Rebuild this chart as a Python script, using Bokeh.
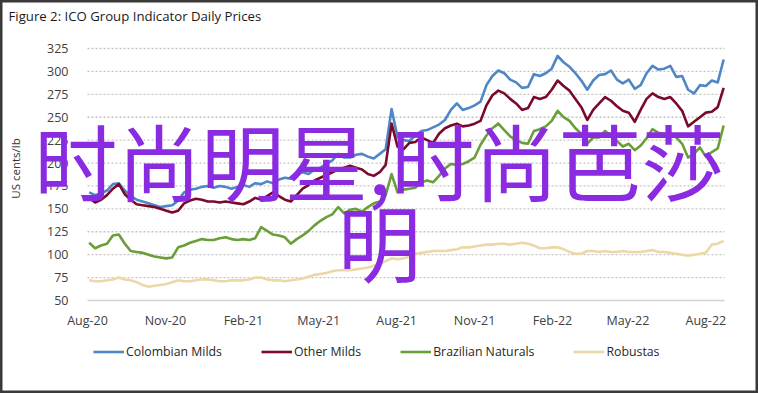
import math
import pandas as pd
from bokeh.plotting import figure
from bokeh.models import (Range1d, FixedTicker, Legend, LegendItem, Label,
                          DatetimeTickFormatter)
from bokeh.embed import file_html
from bokeh.resources import INLINE

# ---------------- data (weekly readings of the daily indicator prices, US cents/lb) -------------
start_date = "2020-08-03"

colombian = [168, 165, 167, 170, 177, 178, 170, 164, 160, 158, 156, 154, 152, 153, 154, 159,
             168, 171, 172, 174, 175, 173, 175, 174, 172, 174, 176, 174, 178, 177, 180, 178,
             182, 184, 183, 188, 190, 188, 193, 195, 199, 203, 210, 206, 206, 209, 210, 207,
             205, 210, 215, 259, 228, 225, 224, 230, 235, 236, 239, 242, 247, 258, 265, 258,
             260, 263, 267, 285, 295, 301, 298, 291, 288, 282, 283, 297, 295, 298, 303, 317,
             310, 305, 298, 290, 280, 290, 296, 297, 301, 291, 287, 291, 281, 285, 298, 306,
             302, 303, 306, 294, 295, 280, 276, 285, 284, 290, 288, 313]

other_milds = [162, 157, 160, 165, 172, 177, 166, 160, 155, 154, 153, 152, 150, 148, 146, 148,
               156, 159, 161, 160, 158, 158, 157, 158, 157, 156, 155, 158, 162, 160, 164, 168,
               164, 160, 158, 165, 172, 176, 181, 184, 187, 190, 193, 195, 197, 195, 193, 188,
               186, 190, 198, 243, 218, 215, 222, 223, 228, 225, 222, 232, 238, 241, 243, 240,
               241, 243, 246, 263, 274, 279, 276, 270, 265, 258, 260, 272, 270, 272, 280, 290,
               284, 279, 270, 261, 247, 258, 265, 272, 268, 262, 257, 255, 245, 258, 270, 276,
               272, 270, 272, 265, 257, 240, 245, 250, 255, 256, 261, 282]

brazilian = [113, 107, 110, 112, 121, 122, 112, 104, 103, 102, 100, 98, 97, 96, 97, 108,
             110, 113, 115, 117, 116, 116, 118, 119, 117, 116, 117, 116, 118, 130, 126, 122,
             121, 119, 112, 117, 121, 126, 132, 137, 141, 144, 152, 145, 149, 150, 147, 152,
             156, 158, 165, 188, 168, 171, 172, 173, 179, 181, 179, 186, 194, 199, 198, 199,
             202, 206, 220, 230, 238, 243, 236, 229, 225, 222, 221, 235, 237, 240, 246, 257,
             250, 246, 238, 232, 221, 228, 228, 235, 230, 224, 218, 221, 214, 219, 227, 237,
             233, 232, 232, 228, 221, 206, 210, 217, 207, 212, 216, 241]

robustas = [72, 71, 71, 72, 73, 75, 73, 72, 70, 67, 65, 66, 67, 68, 70, 72,
            71, 71, 72, 73, 73, 72, 71, 71, 72, 72, 72, 73, 75, 75, 73, 72,
            72, 71, 72, 73, 74, 76, 78, 79, 80, 82, 83, 83, 83, 84, 85, 86,
            88, 90, 93, 96, 95, 96, 98, 101, 102, 103, 104, 104, 104, 105, 106, 108,
            108, 109, 110, 111, 111, 112, 112, 111, 112, 113, 112, 110, 107, 107, 108, 108,
            106, 103, 101, 101, 104, 104, 103, 104, 103, 103, 104, 103, 103, 103, 104, 105,
            103, 103, 102, 101, 100, 99, 100, 101, 102, 111, 112, 115]

series_names = ["Colombian Milds", "Other Milds", "Brazilian Naturals", "Robustas"]
series_colors = ["#4f86c6", "#7a0a2a", "#6a9e3a", "#ecd7a6"]

x_start, x_end = "2020-08-01", "2022-08-23"
tick_dates = ["2020-08-01", "2020-11-01", "2021-02-01", "2021-05-01", "2021-08-01",
              "2021-11-01", "2022-02-01", "2022-05-01", "2022-08-01"]
y_ticks = [50, 75, 100, 125, 150, 175, 200, 225, 250, 275, 300, 325]

title_text = "Figure 2: ICO Group Indicator Daily Prices"
y_label_text = "US cents/lb"
overlay_line1 = "时尚明星,时尚芭莎"
overlay_line2 = "明"

# ---------------- layout constants (pixels inside the 758x393 figure) -------------
W, H = 758, 393
PL, PR, PT, PB = 87, 724, 48, 300     # plot area: left, right, top, bottom
FONT = "Open Sans"

t0, t1 = pd.Timestamp(x_start), pd.Timestamp(x_end)
dpp = (t1 - t0) / (PR - PL)
ypp = (y_ticks[-1] - y_ticks[0]) / (PB - PT)
xr = Range1d(t0 - dpp * PL, t1 + dpp * (W - PR))
yr = Range1d(y_ticks[0] - ypp * (H - PB), y_ticks[-1] + ypp * PT)

dates = pd.date_range(start_date, periods=len(colombian), freq="7D")

p = figure(width=W, height=H, output_backend="svg", toolbar_location=None,
           x_axis_type="datetime", x_range=xr, y_range=yr, min_border=0)
p.outline_line_color = "#3a3a3a"
p.outline_line_width = 4
p.background_fill_color = "white"
p.border_fill_color = "white"
p.xgrid.visible = False
p.ygrid.visible = False

# dotted horizontal gridlines and solid baseline, limited to the plotting span
p.segment(x0=[t0] * (len(y_ticks) - 1), x1=[t1] * (len(y_ticks) - 1),
          y0=y_ticks[1:], y1=y_ticks[1:], line_color="#c4c4c4", line_dash="2 2", line_width=1.3)
p.segment(x0=[t0], x1=[t1], y0=y_ticks[:1], y1=y_ticks[:1], line_color="#d4d4d4", line_width=1.5)

renderers = []
for vals, name, col in zip([colombian, other_milds, brazilian, robustas], series_names, series_colors):
    r = p.line(dates, vals, line_color=col, line_width=2.6, line_join="round")
    renderers.append((name, r))

# axes (labels pulled into place with standoffs)
p.yaxis.ticker = FixedTicker(ticks=y_ticks)
p.yaxis.axis_line_color = None
p.yaxis.major_tick_line_color = None
p.yaxis.minor_tick_line_color = None
p.yaxis.major_label_standoff = -74
p.yaxis.major_label_text_font = FONT
p.yaxis.major_label_text_font_size = "12.5px"
p.yaxis.major_label_text_color = "#404040"

tick_ms = [pd.Timestamp(d).value // 10**6 for d in tick_dates]
p.xaxis.ticker = FixedTicker(ticks=tick_ms)
p.xaxis.formatter = DatetimeTickFormatter(days="%b-%y", months="%b-%y", years="%b-%y",
                                          hours="%b-%y", minutes="%b-%y")
p.xaxis.axis_line_color = None
p.xaxis.major_tick_line_color = None
p.xaxis.minor_tick_line_color = None
p.xaxis.major_label_standoff = -88
p.xaxis.major_label_text_font = FONT
p.xaxis.major_label_text_font_size = "12.5px"
p.xaxis.major_label_text_color = "#404040"

# legend below the plot
legend = Legend(items=[LegendItem(label=n, renderers=[r]) for n, r in renderers],
                orientation="horizontal", location=(93, 33),
                glyph_width=31, glyph_height=15, label_standoff=2, spacing=39,
                padding=0, margin=0, border_line_color=None, background_fill_alpha=0,
                label_text_font=FONT, label_text_font_size="12.3px",
                label_text_color="#262626")
p.add_layout(legend)

# title and y label
p.add_layout(Label(x=8, y=H - 15, x_units="screen", y_units="screen", text=title_text,
                   text_font=FONT, text_font_size="13.2px", text_color="#1a1a1a",
                   text_baseline="middle", text_align="left"))
p.add_layout(Label(x=15, y=H - 168, x_units="screen", y_units="screen", text=y_label_text,
                   angle=math.pi / 2, text_font=FONT, text_font_size="11.5px",
                   text_color="#333333", text_baseline="middle", text_align="center"))

# overlay text
for txt, yy in [(overlay_line1, H - 158), (overlay_line2, H - 239)]:
    p.add_layout(Label(x=379, y=yy, x_units="screen", y_units="screen", text=txt,
                       text_font="Noto Sans CJK SC", text_font_size="83.5px",
                       text_color="#8a2be2", text_align="center", text_baseline="middle"))

open("out.html", "w").write(file_html(p, INLINE))
